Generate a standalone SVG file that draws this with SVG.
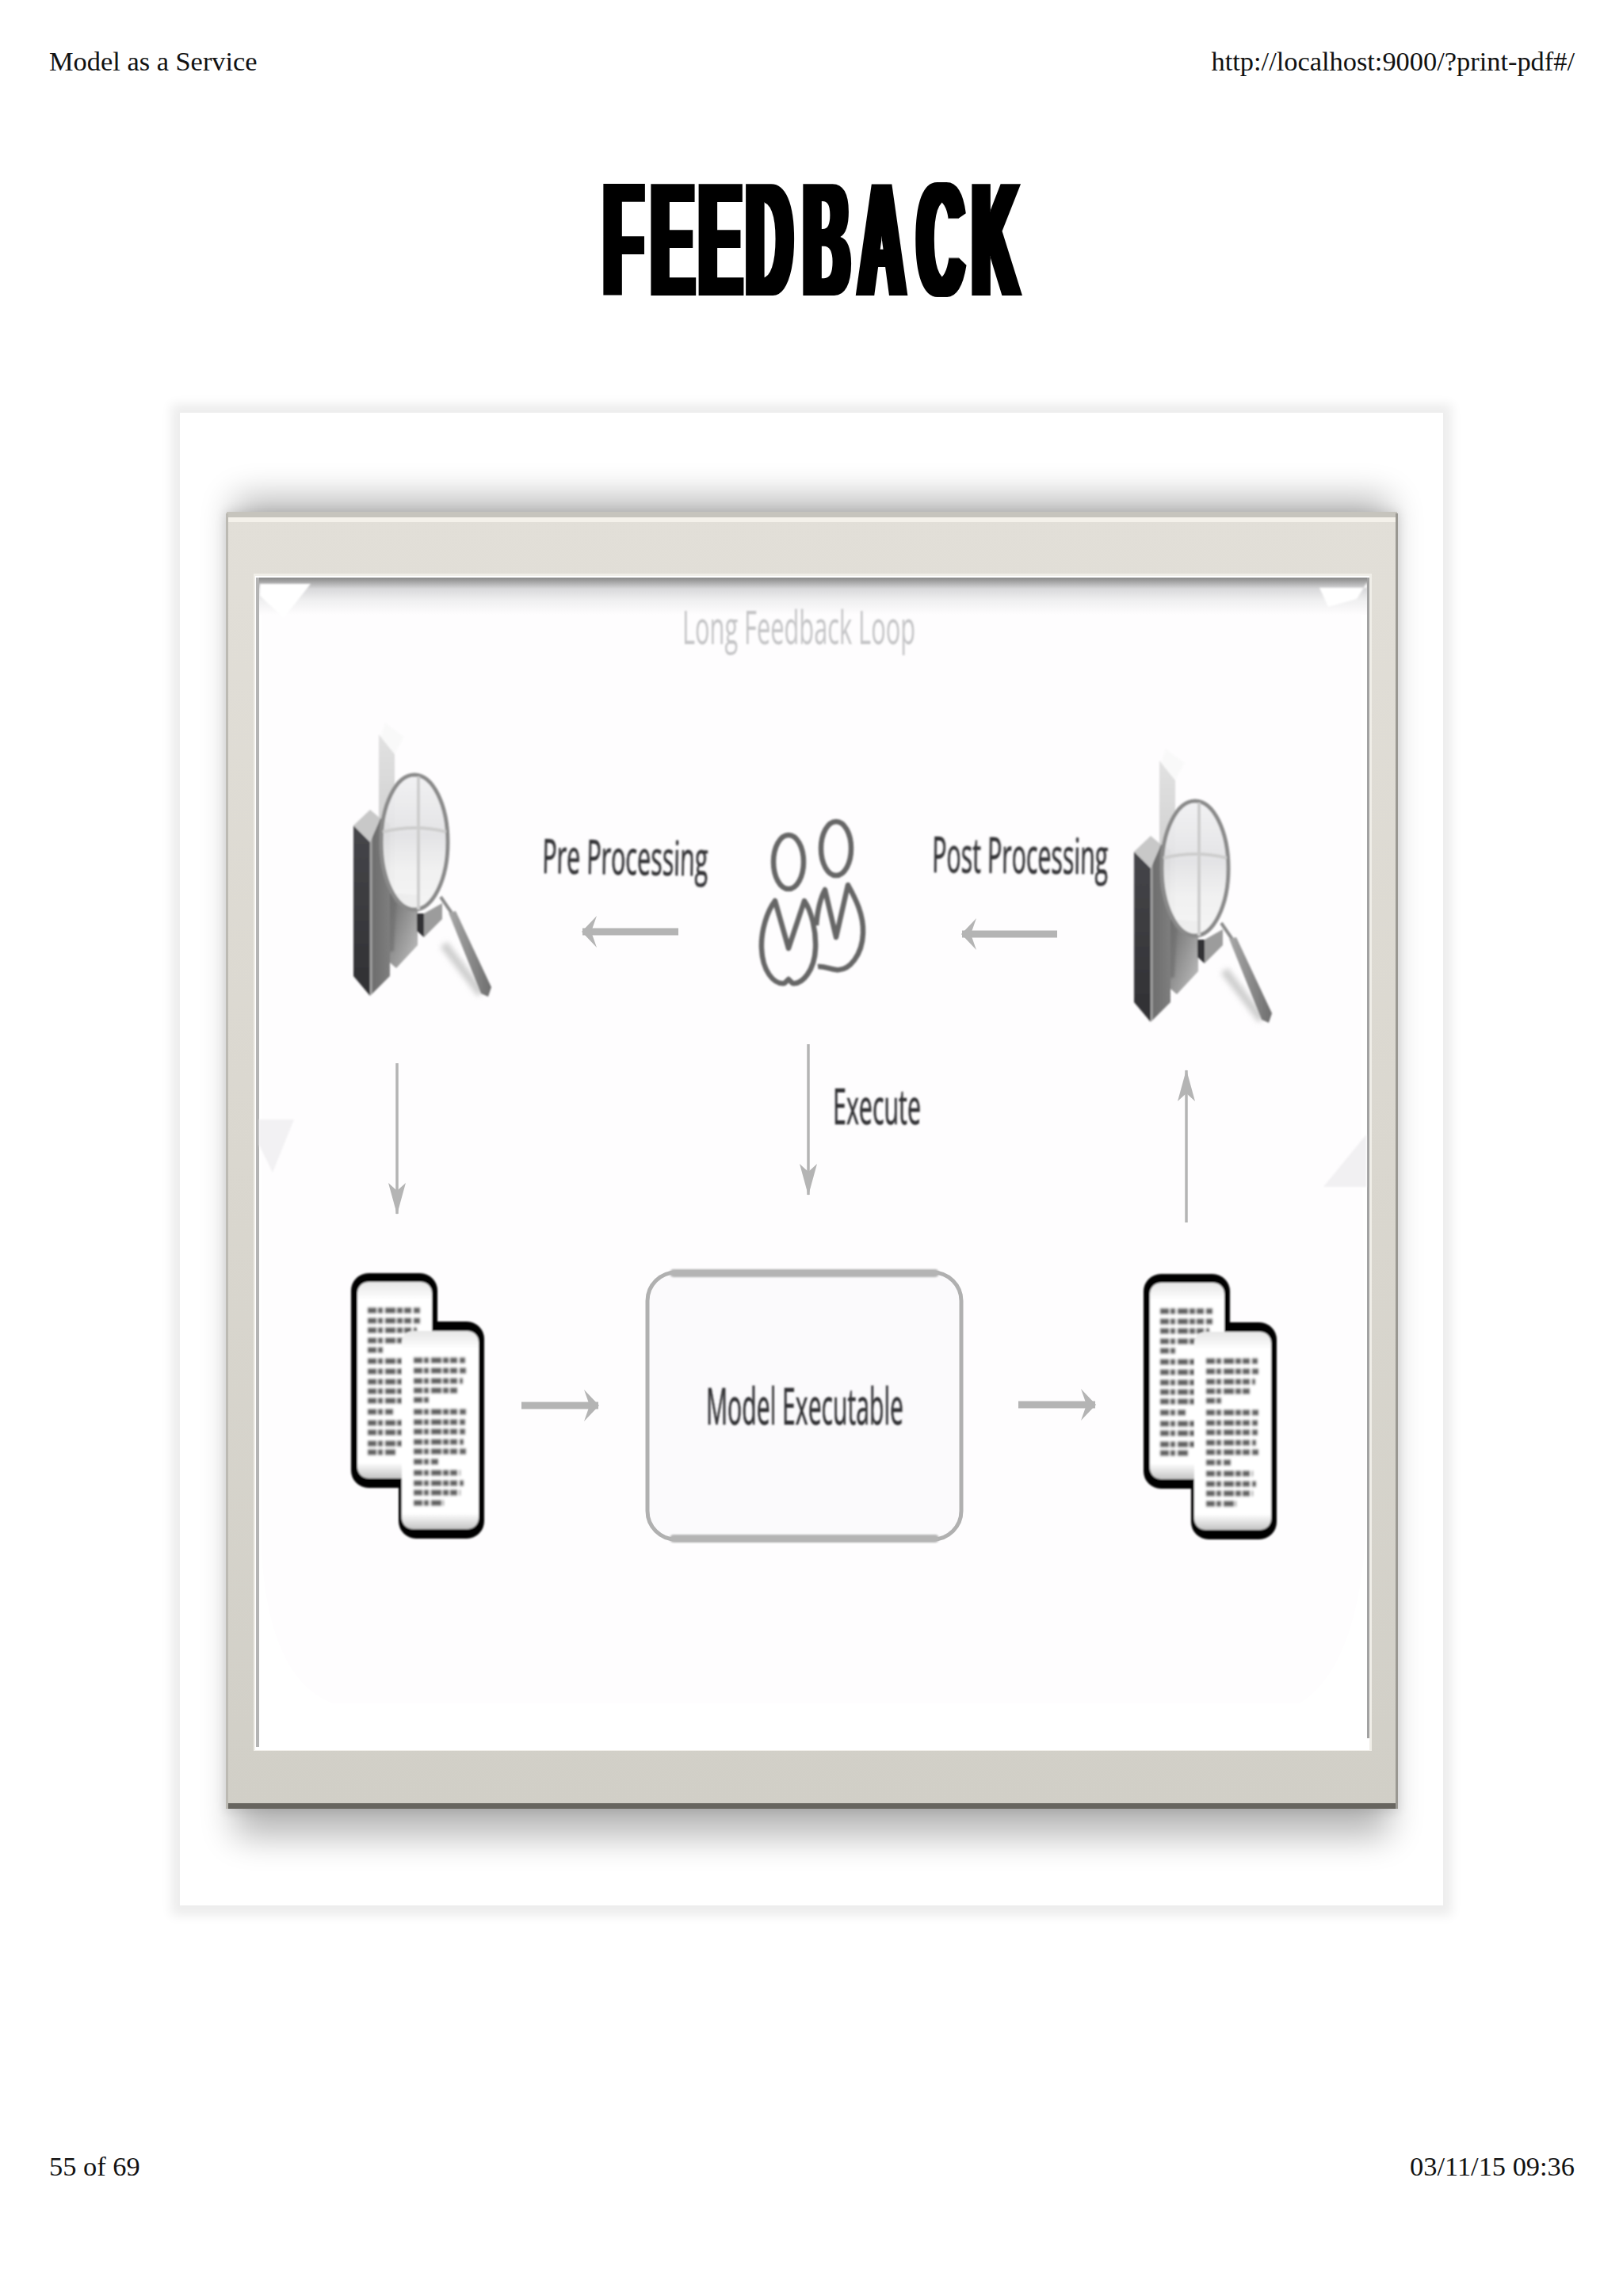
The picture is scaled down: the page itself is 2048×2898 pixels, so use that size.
<svg xmlns="http://www.w3.org/2000/svg" xmlns:xlink="http://www.w3.org/1999/xlink" width="2048" height="2898" viewBox="0 0 2048 2898">
<style>
.hdr{font-family:"Liberation Serif","Times New Roman",serif;font-size:34.4px;fill:#111}
.lbl{font-family:"Open Sans","Noto Sans",sans-serif;fill:#333336;stroke:#333336;stroke-width:.7;filter:url(#soft)}
.conn{fill:none;stroke:#b4b4b4}
.thick{stroke-width:9}
.thin{stroke-width:3.5}
.txt{stroke:#444;stroke-width:7;stroke-dasharray:11 2 6 3 13 2 7 2 9 3;fill:none;opacity:.85;filter:url(#soft2)}
.ppl{fill:none;stroke:#666;stroke-width:6.5;stroke-linejoin:round}
</style>
<defs>
<filter id="soft" x="-5%" y="-10%" width="110%" height="120%"><feGaussianBlur stdDeviation="0.9"/></filter>
<filter id="soft2" x="-10%" y="-10%" width="120%" height="120%"><feGaussianBlur stdDeviation="1.3"/></filter>
<filter id="soft3" x="-20%" y="-20%" width="140%" height="140%"><feGaussianBlur stdDeviation="3"/></filter>
<filter id="sh8" x="-10%" y="-10%" width="120%" height="120%"><feGaussianBlur stdDeviation="7"/></filter>
<filter id="sh24" x="-10%" y="-10%" width="120%" height="120%"><feGaussianBlur stdDeviation="22"/></filter>
<filter id="heavy" x="-5%" y="-5%" width="110%" height="110%"><feMorphology operator="dilate" radius="5.5 0"/></filter>
<linearGradient id="frameG" x1="0" y1="0" x2="0" y2="1"><stop offset="0" stop-color="#e2dfd8"/><stop offset=".5" stop-color="#dad7cf"/><stop offset="1" stop-color="#d1cfc7"/></linearGradient>
<linearGradient id="innerTop" x1="0" y1="0" x2="0" y2="1"><stop offset="0" stop-color="#8a8a8a"/><stop offset=".08" stop-color="#9c9c9c"/><stop offset=".3" stop-color="#d8d8da"/><stop offset=".6" stop-color="#efeff0"/><stop offset="1" stop-color="#fefdfe"/></linearGradient>
<linearGradient id="pageG" x1="0" y1="0" x2="0" y2="1"><stop offset="0" stop-color="#e6e6e6"/><stop offset=".09" stop-color="#fff"/><stop offset=".92" stop-color="#fff"/><stop offset="1" stop-color="#c4c4c4"/></linearGradient>
<linearGradient id="dark" x1="0" y1="0" x2="0" y2="1"><stop offset="0" stop-color="#46464a"/><stop offset="1" stop-color="#303033"/></linearGradient>
<linearGradient id="side" x1="0" y1="0" x2="1" y2="0"><stop offset="0" stop-color="#bdbdbd"/><stop offset=".15" stop-color="#6e6e6e"/><stop offset="1" stop-color="#7e7e7e"/></linearGradient>
<linearGradient id="mid" x1="0" y1="0" x2="1" y2="1"><stop offset="0" stop-color="#6a6a6a"/><stop offset="1" stop-color="#c2c2c2"/></linearGradient>
<linearGradient id="barG" x1="0" y1="0" x2="0" y2="1"><stop offset="0" stop-color="#e2e2e2"/><stop offset="1" stop-color="#c4c4c4"/></linearGradient>
<linearGradient id="lensG" x1="0" y1="0" x2="0" y2="1"><stop offset="0" stop-color="#f1f1f3"/><stop offset=".45" stop-color="#e2e2e4"/><stop offset=".7" stop-color="#f0f0f0"/><stop offset="1" stop-color="#f4f4f4"/></linearGradient>
<linearGradient id="handleG" x1="0" y1="0" x2="1" y2="0"><stop offset="0" stop-color="#a8a8a8"/><stop offset="1" stop-color="#6e6e6e"/></linearGradient>
<marker id="hd" viewBox="0 0 20 40" refX="19" refY="20" markerUnits="userSpaceOnUse" markerWidth="20" markerHeight="40" orient="auto"><path d="M1 0L20 20L1 40L8 20Z" fill="#b4b4b4"/></marker>
<marker id="hdl" viewBox="0 0 40 22" refX="39" refY="11" markerUnits="userSpaceOnUse" markerWidth="40" markerHeight="22" orient="auto"><path d="M0 0L40 11L0 22L10 11Z" fill="#b4b4b4"/></marker>
<g id="lens" filter="url(#soft)">
<path d="M486 912L510 930L498 952L480 930Z" fill="#f9f9f9"/>
<path d="M478 927L498 952V1130H478Z" fill="url(#barG)"/>
<path d="M492 1127L527 1130V1193L500 1222L492 1215Z" fill="url(#mid)"/>
<path d="M480 1130L500 1140L497 1200L482 1205Z" fill="#6f6f6f" opacity=".7" filter="url(#soft2)"/>
<path d="M446 1042L467 1022L480 1033L467 1063Z" fill="#c8c8c8"/>
<path d="M446 1042L467 1063V1257L446 1232Z" fill="url(#dark)"/>
<path d="M467 1063L480 1033L492 1040V1232L467 1257Z" fill="url(#side)"/>
<path d="M535 1153L558 1140V1160L535 1183Z" fill="#9c9c9c"/>
<path d="M526 1153H535V1183L526 1175Z" fill="#333336"/>
<ellipse cx="523" cy="1063" rx="42" ry="85" fill="url(#lensG)" fill-opacity=".95" stroke="#8a8a8a" stroke-width="5"/>
<path d="M528 980V1148M483 1050Q524 1040 563 1050" fill="none" stroke="#cdcdcd" stroke-width="4"/>
<path d="M560 1192L607 1254" stroke="#cfcfcf" stroke-width="11" fill="none" filter="url(#soft3)"/>
<path d="M556 1132L571 1154" stroke="#8a8a8a" stroke-width="4" fill="none"/>
<path d="M566 1152L575 1150L620 1246L616 1258L607 1254Z" fill="url(#handleG)"/>
</g>
<g id="doc" filter="url(#soft2)">
<rect x="503" y="1668" width="108" height="274" rx="22" fill="#000"/>
<rect x="443" y="1607" width="109" height="271" rx="22" fill="#000"/>
<rect x="451" y="1618" width="94" height="248" rx="14" fill="url(#pageG)"/>
<path class="txt" d="M464 1654H530M464 1667H530M464 1679H526M464 1692H526M464 1704H484M464 1718H530M464 1731H530M464 1744H530M464 1756H530M464 1768H530M464 1782H496M464 1796H530M464 1808H530M464 1822H530M464 1833H500"/>
<rect x="507" y="1680" width="97" height="250" rx="14" fill="url(#pageG)"/>
<path class="txt" d="M522 1717H587M522 1730H588M522 1743H584M522 1755H580M522 1767H541M522 1782H588M522 1795H587M522 1807H587M522 1820H585M522 1832H588M522 1845H553M522 1859H581M522 1872H585M522 1884H581M522 1897H560"/>
</g>
</defs>

<rect width="2048" height="2898" fill="#fff"/>

<g id="page-header">
<text class="hdr" x="62" y="89">Model as a Service</text>
<text class="hdr" x="1987" y="89" text-anchor="end">http://localhost:9000/?print-pdf#/</text>
<g filter="url(#heavy)"><text transform="scale(.39 1)" x="1954 2108 2262 2415 2600 2779 2969 3146" y="373" font-family="'Liberation Sans',Arial,sans-serif" font-weight="700" font-size="205" fill="#000">FEEDBACK</text></g>
<text class="hdr" x="62" y="2746">55 of 69</text>
<text class="hdr" x="1987" y="2746" text-anchor="end">03/11/15 09:36</text>
</g>

<g id="picture-frame">
<rect x="216" y="510" width="1616" height="1908" fill="#000" opacity=".07" filter="url(#sh8)"/>
<rect x="227" y="521" width="1594" height="1884" fill="#fff"/>
<rect x="296" y="628" width="1457" height="1690" fill="#000" opacity=".28" filter="url(#sh24)"/>
<rect x="284" y="645" width="1481" height="1642" fill="#000" opacity=".10" filter="url(#sh8)"/>
<rect x="286" y="646" width="1477" height="1637" rx="3" fill="url(#frameG)"/>
<rect x="286" y="646" width="1477" height="7" fill="#c6c4bd"/>
<rect x="286" y="653" width="1477" height="6" fill="#f4f1ea"/>
<rect x="286" y="2276" width="1477" height="7" fill="#67655f"/>
<rect x="285" y="648" width="3" height="1635" fill="#bcbab3"/>
<rect x="1761" y="648" width="3" height="1635" fill="#9a9892"/>
<rect x="320" y="724" width="1411" height="1486" fill="#f0eee8"/>
<rect x="322" y="727" width="1406" height="1482" fill="#fff"/>
<path d="M330 775H1718V1400L1725 1900Q1720 2100 1640 2150H420Q340 2120 330 1960Z" fill="#fefdfe"/>
<rect x="326" y="729" width="1399" height="47" fill="url(#innerTop)"/>
<path d="M328 737H392L358 780L328 752Z" fill="#fff" filter="url(#soft)"/>
<path d="M1665 742L1676 766L1712 756L1725 735V742Z" fill="#fff" filter="url(#soft)"/>
<rect x="323" y="729" width="4" height="1476" fill="#b4b4b4"/>
<rect x="1725" y="729" width="3" height="1465" fill="#a2a2a2"/>
<path d="M327 1413H371L344 1480L327 1445Z" fill="#f2f1f3" filter="url(#soft2)"/>
<path d="M1724 1432V1498H1670Z" fill="#f1f0f2" filter="url(#soft2)"/>
</g>

<g id="title-label">
<text class="lbl" x="861" y="813" textLength="294" lengthAdjust="spacingAndGlyphs" font-size="58" style="fill:#c4c4c6;stroke:none">Long Feedback Loop</text>
</g>

<g id="connectors">
<line class="conn thick" x1="856" y1="1176" x2="735" y2="1176" marker-end="url(#hd)"/>
<line class="conn thick" x1="1334" y1="1179" x2="1214" y2="1179" marker-end="url(#hd)"/>
<line class="conn thin" x1="501" y1="1342" x2="501" y2="1532" marker-end="url(#hdl)"/>
<line class="conn thin" x1="1020" y1="1318" x2="1020" y2="1508" marker-end="url(#hdl)"/>
<line class="conn thin" x1="1497" y1="1543" x2="1497" y2="1351" marker-end="url(#hdl)"/>
<line class="conn thick" x1="658" y1="1774" x2="755" y2="1774" marker-end="url(#hd)"/>
<line class="conn thick" x1="1285" y1="1773" x2="1382" y2="1773" marker-end="url(#hd)"/>
</g>

<g id="pre-processing-icon"><use href="#lens" xlink:href="#lens"/></g>
<g id="post-processing-icon"><use href="#lens" xlink:href="#lens" transform="translate(985 33)"/></g>

<g id="users-icon" filter="url(#soft)">
<ellipse class="ppl" cx="995" cy="1088" rx="19" ry="34"/>
<path class="ppl" d="M978 1137L995 1197L1015 1137C1024 1150 1030 1175 1029 1197C1028 1225 1012 1243 1000 1241L995 1236L990 1241C976 1243 962 1225 961 1197C960 1175 968 1150 978 1137Z"/>
<ellipse class="ppl" cx="1055" cy="1071" rx="19" ry="34"/>
<path class="ppl" d="M1030 1168C1032 1145 1036 1132 1041 1123L1055 1183L1070 1117C1080 1135 1090 1155 1089 1178C1088 1205 1072 1226 1055 1224C1046 1223 1040 1219 1032 1220"/>
</g>

<g id="pre-processing-label">
<text class="lbl" x="684" y="1102" textLength="209" lengthAdjust="spacingAndGlyphs" font-size="61" transform="rotate(1 684 1102)">Pre Processing</text>
</g>
<g id="post-processing-label">
<text class="lbl" x="1176" y="1101" textLength="222" lengthAdjust="spacingAndGlyphs" font-size="63" transform="rotate(.6 1176 1101)">Post Processing</text>
</g>
<g id="execute-label">
<text class="lbl" x="1051" y="1419" textLength="111" lengthAdjust="spacingAndGlyphs" font-size="63">Execute</text>
</g>

<g id="input-documents"><use href="#doc" xlink:href="#doc"/></g>

<g id="model-executable">
<rect x="817" y="1606" width="396" height="337" rx="36" ry="36" fill="#fbfafc" stroke="#b0b0b0" stroke-width="5"/>
<path d="M850 1607H1180M850 1942H1180" fill="none" stroke="#b4b4b4" stroke-width="10" stroke-linecap="round" filter="url(#soft2)"/>
<text class="lbl" x="891" y="1798" textLength="249" lengthAdjust="spacingAndGlyphs" font-size="64">Model Executable</text>
</g>

<g id="output-documents"><use href="#doc" xlink:href="#doc" transform="translate(1000 1)"/></g>
</svg>
